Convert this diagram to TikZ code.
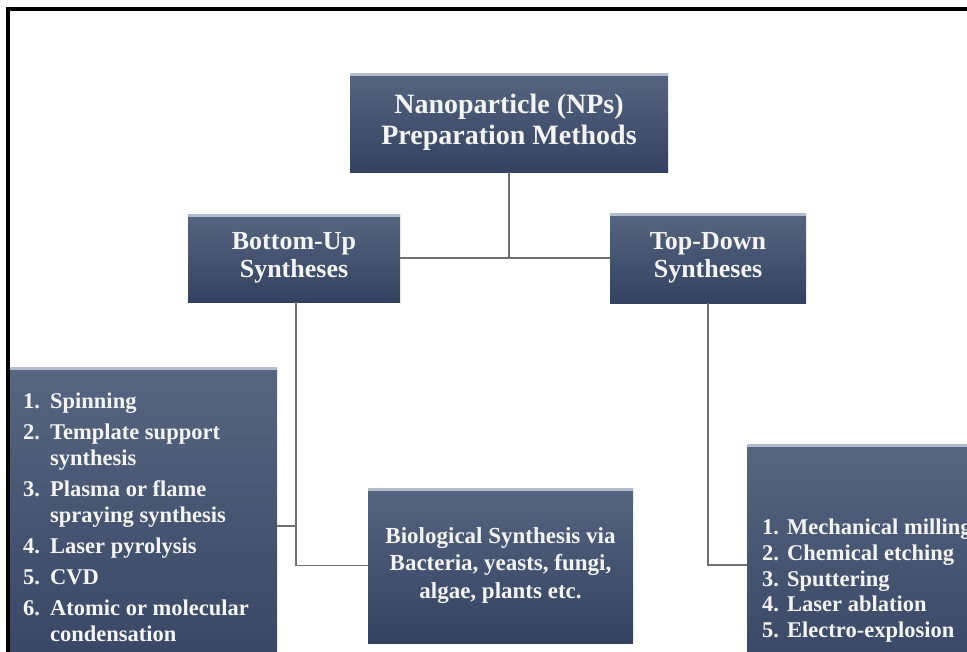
\documentclass[tikz,border=0pt]{standalone}
\usepackage{fontspec}
\setmainfont{Liberation Serif}
\definecolor{boxTop}{RGB}{86,102,128}
\definecolor{boxBot}{RGB}{50,66,96}
\definecolor{boxHi}{RGB}{178,188,202}
\definecolor{txt}{RGB}{244,244,244}
\definecolor{lineC}{RGB}{112,112,112}
\begin{document}
\begin{tikzpicture}[x=1pt,y=-1pt,
  box/.style={inner sep=0pt, outer sep=0pt, top color=boxTop, bottom color=boxBot,
    text=txt, align=center,
    path picture={\fill[boxHi] (path picture bounding box.north west) rectangle ([yshift=-3pt]path picture bounding box.north east);}},
  conn/.style={draw=lineC, line width=1.5pt},
  item/.style={anchor=base west, inner sep=0pt, text=txt, font=\bfseries\fontsize{22.5}{26}\selectfont}
]
\useasboundingbox (0,0) rectangle (967,651);
\fill[white] (0,0) rectangle (967,651);

% boxes
\node[box, minimum width=318pt, minimum height=99pt, font=\bfseries\fontsize{28}{31}\selectfont] (top) at (509,122.5) {Nanoparticle (NPs)\\Preparation Methods};
\node[box, minimum width=212pt, minimum height=88pt, font=\bfseries\fontsize{26}{28}\selectfont] (bu) at (294,258) {Bottom-Up\\Syntheses};
\node[box, minimum width=196pt, minimum height=90pt, font=\bfseries\fontsize{26}{28}\selectfont] (td) at (708,258) {Top-Down\\Syntheses};
\node[box, minimum width=265pt, minimum height=155pt, font=\bfseries\fontsize{23}{27.5}\selectfont] (bio) at (500.5,565.5) {Biological Synthesis via\\Bacteria, yeasts, fungi,\\algae, plants etc.};
\node[box, minimum width=269pt, minimum height=340pt] (ll) at (142.5,537) {};
\node[box, minimum width=260pt, minimum height=260pt] (rl) at (877,574) {};

% left list
\node[item] (l1)  at (23,408) {\makebox[27pt][l]{1.}Spinning};
\node[item] (l2)  at (23,439) {\makebox[27pt][l]{2.}Template support};
\node[item] (l2b) at (50,465) {synthesis};
\node[item] (l3)  at (23,496) {\makebox[27pt][l]{3.}Plasma or flame};
\node[item] (l3b) at (50,522) {spraying synthesis};
\node[item] (l4)  at (23,553) {\makebox[27pt][l]{4.}Laser pyrolysis};
\node[item] (l5)  at (23,584) {\makebox[27pt][l]{5.}CVD};
\node[item] (l6)  at (23,615) {\makebox[27pt][l]{6.}Atomic or molecular};
\node[item] (l6b) at (50,641) {condensation};

% right list
\node[item] (r1) at (762,534) {\makebox[25pt][l]{1.}Mechanical milling};
\node[item] (r2) at (762,560) {\makebox[25pt][l]{2.}Chemical etching};
\node[item] (r3) at (762,586) {\makebox[25pt][l]{3.}Sputtering};
\node[item] (r4) at (762,611) {\makebox[25pt][l]{4.}Laser ablation};
\node[item] (r5) at (762,637) {\makebox[25pt][l]{5.}Electro-explosion};

% connectors
\coordinate (lj) at (296,526);
\coordinate (rj) at (708,565);
\draw[conn] (top.south) -- (top.south |- bu.east);
\draw[conn] (bu.east) -- (td.west);
\draw[conn] (bu.south -| lj) -- (lj |- bio.west) -- (bio.west);
\draw[conn] (lj) -- (lj -| ll.east);
\draw[conn] (td.south) -- (rj) -- (rj -| rl.west);

% frame
\draw[line width=4pt, black] (8,700) -- (8,9) -- (1000,9);
\end{tikzpicture}
\end{document}
